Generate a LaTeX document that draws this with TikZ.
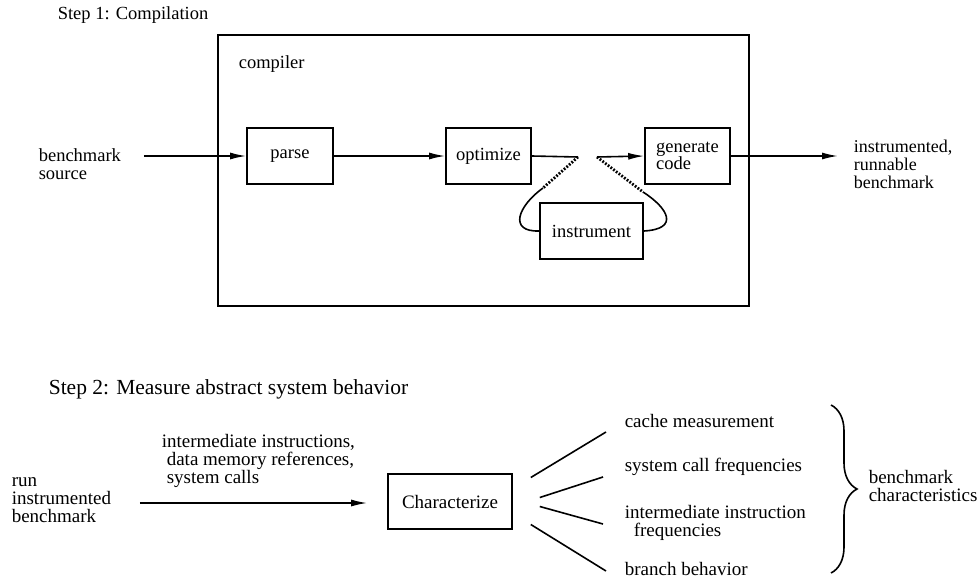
\documentclass[tikz,border=0pt]{standalone}
\usepackage{fontspec}
\setmainfont{Liberation Serif}
\usetikzlibrary{positioning}
\usetikzlibrary{calc}
\usetikzlibrary{arrows.meta}
\usetikzlibrary{decorations.pathreplacing}

\tikzset{
    stage/.style = {draw, line width = 1.6pt, minimum height = 56pt, inner sep = 0pt, align = left,
                    font = \fontsize{18.5}{17}\selectfont},
    txt/.style   = {anchor = west, inner sep = 0pt, align = left, font = \fontsize{18.5}{18}\selectfont},
    txtb/.style  = {txt, font = \fontsize{19}{18}\selectfont},
    loopdot/.style = {line width = 2.8pt, dash pattern = on 1.8pt off 1.6pt},
}

\begin{document}
\begin{tikzpicture}[x = 1pt, y = -1pt, line width = 1.6pt, >={Latex[length = 16pt, width = 7pt]}]
    \useasboundingbox (0,0) rectangle (979,578);

    % Step 1: the compiler
    \node [txt] (step1) at (57,15) {Step 1: Compilation};
    \node [draw, minimum width = 531pt, minimum height = 271pt, inner sep = 0pt] (compiler) at (483.5,170.5) {};
    \node [txt] (complabel) at (238,64) {compiler};

    \node [txt] (src) at (38,164) {benchmark\\source};
    \node [stage, minimum width = 86pt]  (parse)      at (290,156)   {parse};
    \node [stage, minimum width = 85pt]  (optimize)   at (488.5,156) {optimize};
    \node [stage, minimum width = 85pt]  (gencode)    at (687.5,156) {generate\\code};
    \node [stage, minimum width = 103pt] (instrument) at (591.5,231) {instrument};
    \node [txt, font = \fontsize{18}{18}\selectfont] (out) at (853,164) {instrumented,\\runnable\\benchmark};

    \coordinate (gapL)  at (578,157);
    \coordinate (gapR)  at (597,157);
    \coordinate (loopL) at (543,188);
    \coordinate (loopR) at (643,192);

    \draw [->, shorten < = 22pt] (src.east |- parse.west) -- (parse.west);
    \draw [->] (parse.east) -- (optimize.west);
    \draw (optimize.east) -- (gapL);
    \draw [->] (gapR) -- (gencode.west);
    \draw [->, shorten > = 15pt] (gencode.east) -- (gencode.east -| out.west);

    % the instrument loop
    \draw [loopdot] (gapL) -- (loopL);
    \draw (loopL) .. controls (518,206) and (508,232) .. (instrument.west);
    \draw [loopdot] (gapR) -- (loopR);
    \draw (loopR) .. controls (668,208) and (680,229) .. (instrument.east);

    % Step 2: characterize
    \node [txt, font = \fontsize{21.5}{20}\selectfont] (step2) at (48,389) {Step 2: Measure abstract system behavior};
    \node [txtb] (run) at (11,500) {run\\instrumented\\benchmark};
    \node [stage, minimum width = 124pt, minimum height = 55pt, font = \fontsize{19}{18}\selectfont] (characterize) at (450,501.5) {Characterize};
    \node [txtb] (trace) at (161,461) {intermediate instructions,\\\hspace*{5pt}data memory references,\\\hspace*{5pt}system calls};
    \draw [->, shorten < = 28pt, shorten > = 20pt] (run.east |- 0,503) -- (characterize.west |- 0,503);

    \node [txtb] (cache)    at (624,421) {cache measurement};
    \node [txtb] (syscall)  at (624,467) {system call frequencies};
    \node [txtb] (instfreq) at (624,523) {intermediate instruction\\\hspace*{9pt}frequencies};
    \node [txtb] (branch)   at (624,569) {branch behavior};

    \draw ($(characterize.east)+(18,-24)$) -- ($(cache.west)+(-18,11)$);
    \draw ($(characterize.east)+(27,-4)$)  -- ($(syscall.west)+(-21,10)$);
    \draw ($(characterize.east)+(27,5)$)   -- ($(instfreq.west)+(-21,1)$);
    \draw ($(characterize.east)+(18,23)$)  -- ($(branch.west)+(-18,2)$);

    \draw [decorate, decoration = {brace, amplitude = 26pt, aspect = 0.5}] (831,405) -- (831,573);
    \node [txtb] (bchar) at (868,486) {benchmark\\characteristics};
\end{tikzpicture}
\end{document}
